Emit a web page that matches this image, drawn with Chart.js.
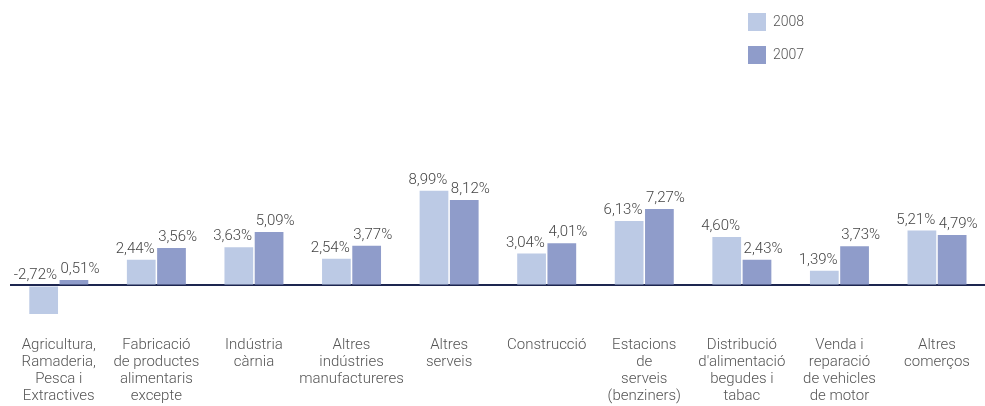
<!DOCTYPE html>
<html>
<head>
<meta charset="utf-8">
<script src="https://cdn.jsdelivr.net/npm/chart.js@4/dist/chart.umd.min.js"></script>
<style>
  html, body { margin: 0; padding: 0; background: #fff; overflow: hidden; }
  #wrap { position: relative; width: 990px; height: 406px; }
  .legend { position: absolute; left: 748px; font-family: Roboto, "Open Sans", sans-serif; font-weight: 300; font-size: 14px; color: #555; }
  .legend span { display: inline-block; width: 18px; height: 18px; vertical-align: middle; margin-right: 7px; }
</style>
</head>
<body>
<div id="wrap">
  <canvas id="sectorChart" width="990" height="406"></canvas>
  <div class="legend" style="top:13px"><span style="background:#bccae5"></span>2008</div>
  <div class="legend" style="top:46px"><span style="background:#8f9cca"></span>2007</div>
</div>
<script>
const sectors = [
  ['Agricultura,', 'Ramaderia,', 'Pesca i', 'Extractives'],
  ['Fabricació', 'de productes', 'alimentaris', 'excepte'],
  ['Indústria', 'càrnia'],
  ['Altres', 'indústries', 'manufactureres'],
  ['Altres', 'serveis'],
  ['Construcció'],
  ['Estacions', 'de', 'serveis', '(benziners)'],
  ['Distribució', "d'alimentació", 'begudes i', 'tabac'],
  ['Venda i', 'reparació', 'de vehicles', 'de motor'],
  ['Altres', 'comerços']
];
const values2008 = [-2.72, 2.44, 3.63, 2.54, 8.99, 3.04, 6.13, 4.60, 1.39, 5.21];
const values2007 = [0.51, 3.56, 5.09, 3.77, 8.12, 4.01, 7.27, 2.43, 3.73, 4.79];

const fontFamily = 'Roboto, "Open Sans", sans-serif';

// value labels above each bar, 2008 pushed left and 2007 pushed right
const valueLabels = {
  id: 'valueLabels',
  afterDatasetsDraw(chart) {
    const ctx = chart.ctx;
    const zeroY = chart.scales.y.getPixelForValue(0);
    ctx.save();
    ctx.font = '300 15px ' + fontFamily;
    ctx.fillStyle = '#444';
    ctx.textBaseline = 'bottom';
    chart.data.datasets.forEach((ds, i) => {
      chart.getDatasetMeta(i).data.forEach((bar, j) => {
        const v = ds.data[j];
        const top = Math.min(bar.y, zeroY);
        const half = bar.width / 2;
        const txt = v.toFixed(2).replace('.', ',') + '%';
        if (i === 0) {
          ctx.textAlign = 'right';
          ctx.fillText(txt, bar.x + half - 1, top - 3);
        } else {
          ctx.textAlign = 'left';
          ctx.fillText(txt, bar.x - half + 1, top - 3);
        }
      });
    });
    ctx.restore();
  }
};

const ctx = document.getElementById('sectorChart').getContext('2d');
const sectorChart = new Chart(ctx, {
  type: 'bar',
  data: {
    labels: sectors,
    datasets: [
      { label: '2008', data: values2008, backgroundColor: '#bccae5' },
      { label: '2007', data: values2007, backgroundColor: '#8f9cca' }
    ]
  },
  options: {
    responsive: false,
    animation: false,
    categoryPercentage: 0.62,
    barPercentage: 0.95,
    layout: { padding: { top: 75, left: 10, right: 1, bottom: -19 } },
    plugins: { legend: { display: false }, tooltip: { enabled: false } },
    scales: {
      x: {
        grid: { display: false, drawTicks: false },
        border: { display: false },
        ticks: {
          padding: 20,
          color: '#555',
          maxRotation: 0,
          autoSkip: false,
          font: { family: fontFamily, size: 15, weight: '300', lineHeight: '17px' }
        }
      },
      y: {
        min: -3,
        max: 20,
        ticks: { display: false, stepSize: 1 },
        border: { display: false },
        grid: {
          drawTicks: false,
          color: c => c.tick.value === 0 ? '#1d2650' : 'rgba(0,0,0,0)',
          lineWidth: c => c.tick.value === 0 ? 2 : 0
        }
      }
    }
  },
  plugins: [valueLabels]
});
</script>
</body>
</html>
